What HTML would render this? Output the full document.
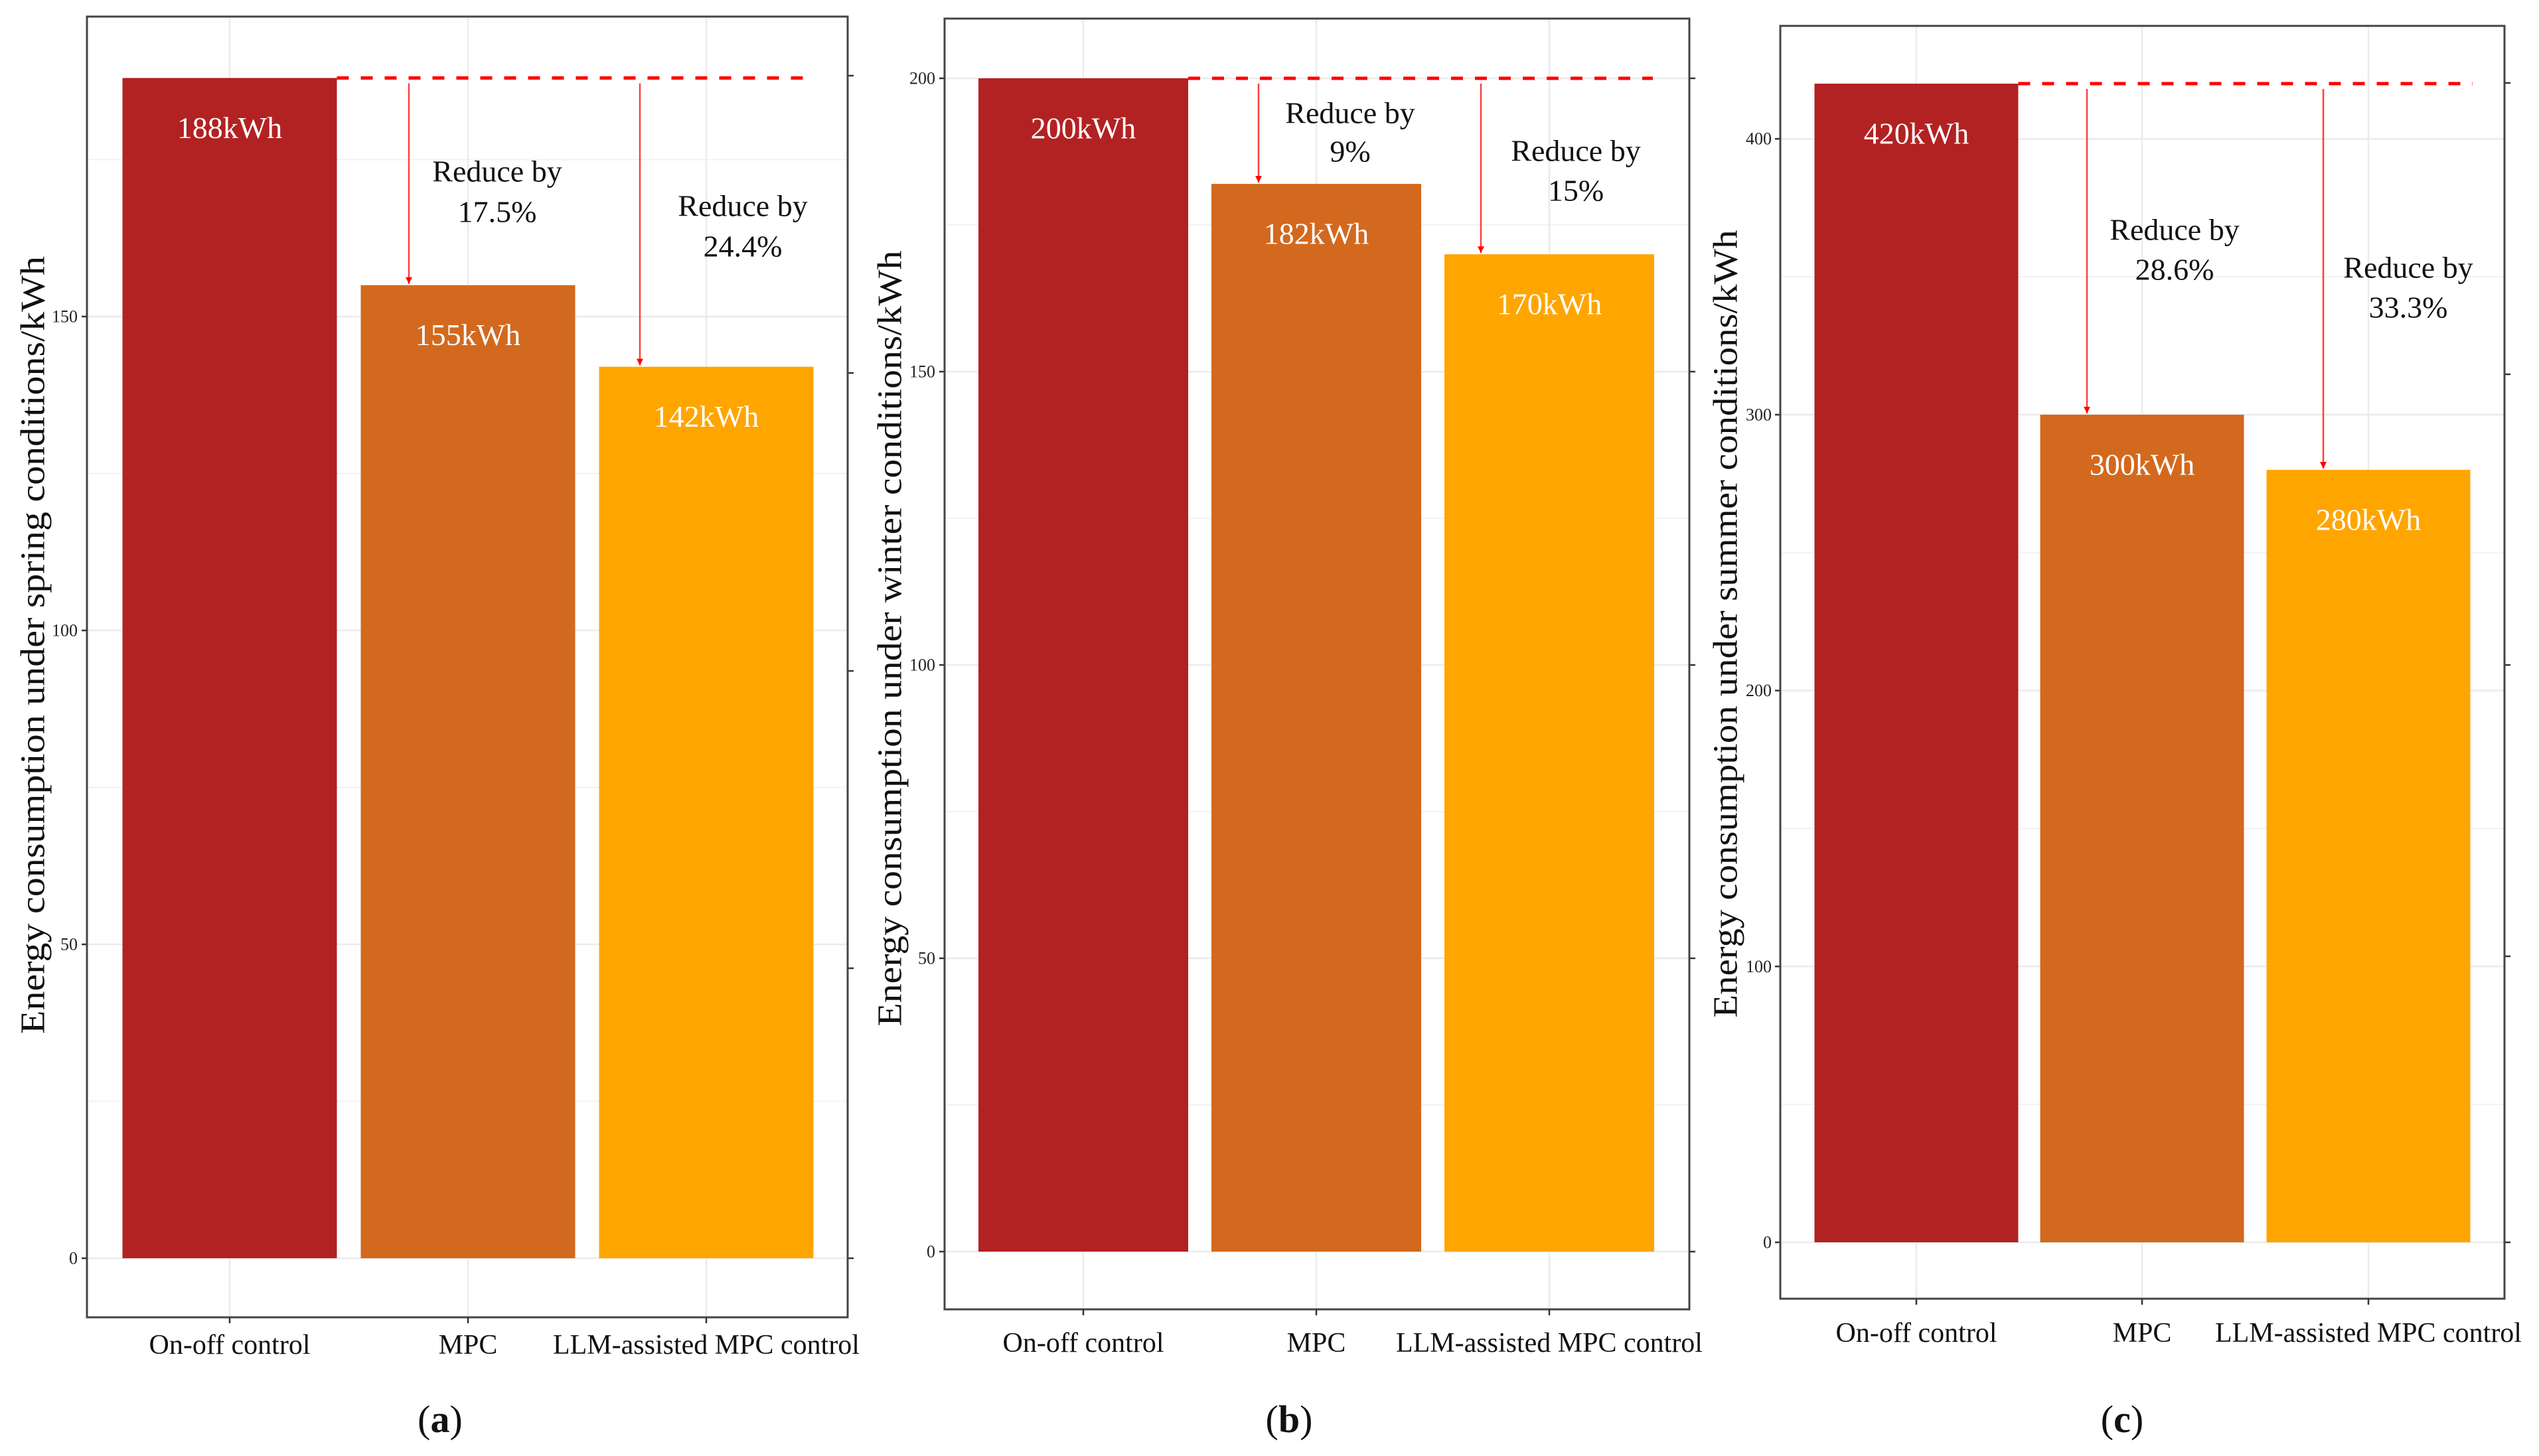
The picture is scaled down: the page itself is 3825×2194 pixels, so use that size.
<!DOCTYPE html>
<html><head><meta charset="utf-8">
<style>
html,body{margin:0;padding:0;background:#fff;}
svg{display:block;font-family:"Liberation Serif",serif;}
text{font-family:"Liberation Serif",serif;}
</style></head>
<body>
<svg id="fig" width="3825" height="2194" viewBox="0 0 3825 2194" font-family="Liberation Serif, serif" xmlns="http://www.w3.org/2000/svg"></svg>
<script>
// ---- data ----
const categories = ["On-off control", "MPC", "LLM-assisted MPC control"];
const springValues = [188, 155, 142];
const winterValues = [200, 182, 170];
const summerValues = [420, 300, 280];
const springReductions = ["17.5%", "24.4%"];
const winterReductions = ["9%", "15%"];
const summerReductions = ["28.6%", "33.3%"];
const springTicks = [0, 50, 100, 150];
const winterTicks = [0, 50, 100, 150, 200];
const summerTicks = [0, 100, 200, 300, 400];
const panelLetters = ["(a)", "(b)", "(c)"];
const yTitles = ["Energy consumption under spring conditions/kWh",
                 "Energy consumption under winter conditions/kWh",
                 "Energy consumption under summer conditions/kWh"];
const barColors = ["#B22222", "#D2691E", "#FFA500"];

// ---- layout (not data) ----
const panels = [
  {id:"a", values:springValues, red:springReductions, ticks:springTicks, minor:25,
   box:[131,25,1277,1985], y0:1896, unit:9.46, centers:[346,705,1064], barW:323,
   titleX:50, titleY:972, titleLen:1172, tickX:117, dashEnd:1210,
   arrowX:[616,964], annY:[[258,319],[310,371]], annX:[749,1119],
   rightTicks:[114,562,1011,1459,1896], labY:2040, letterX:663},
  {id:"b", values:winterValues, red:winterReductions, ticks:winterTicks, minor:25,
   box:[1423,28,2545,1973], y0:1886, unit:8.84, centers:[1632,1983,2334], barW:316,
   titleX:1341, titleY:962, titleLen:1169, tickX:1409, dashEnd:2490,
   arrowX:[1896,2231], annY:[[170,228],[227,287]], annX:[2034,2374],
   rightTicks:null, labY:2037, letterX:1942},
  {id:"c", values:summerValues, red:summerReductions, ticks:summerTicks, minor:50,
   box:[2682,39,3773,1957], y0:1872, unit:4.157, centers:[2887,3227,3568], barW:307,
   titleX:2600, titleY:940, titleLen:1187, tickX:2669, dashEnd:3725,
   arrowX:[3144,3500], annY:[[346,406],[403,463]], annX:[3276,3628],
   rightTicks:[125,564,1002,1441,1872], labY:2022, letterX:3197}
];

const NS = "http://www.w3.org/2000/svg";
const svg = document.getElementById("fig");
function mk(tag, attrs, parent, txt){
  const e = document.createElementNS(NS, tag);
  for (const k in attrs) e.setAttribute(k, attrs[k]);
  if (txt !== undefined) e.textContent = txt;
  (parent||svg).appendChild(e);
  return e;
}

const defs = mk("defs", {});
const mrk = mk("marker", {id:"arr", viewBox:"0 0 10 10", refX:"10", refY:"5", markerWidth:"4", markerHeight:"4", orient:"auto"}, defs);
mk("path", {d:"M0,0 L10,5 L0,10 z", fill:"#ff0000"}, mrk);

panels.forEach((p, pi) => {
  const g = mk("g", {});
  
  
  const yS = v => p.y0 - v * p.unit;
  const [L, T, R, B] = p.box;

  for (let v = p.minor; yS(v) > T; v += p.minor * 2) {
    const gl = mk("line", {x1:L, x2:R, y1:yS(v), y2:yS(v), stroke:"#f2f2f2", "stroke-width":2}, g);
    
    
  }
  p.ticks.forEach(t => {
    const y = yS(t);
    const gl = mk("line", {x1:L, x2:R, y1:y, y2:y, stroke:"#ebebeb", "stroke-width":2.5}, g);
    
    
    const tk = mk("line", {x1:L-8, x2:L, y1:y, y2:y, stroke:"#333", "stroke-width":2.5}, g);
    
    
    const tl = mk("text", {x:p.tickX, y:y, "font-size":26, "text-anchor":"end", "dominant-baseline":"central", fill:"#222", "font-family":"Liberation Serif, serif"}, g, String(t));
    
    
  });
  const rts = p.rightTicks || p.ticks.map(yS);
  rts.forEach(y => {
    const rt = mk("line", {x1:R, x2:R+9, y1:y, y2:y, stroke:"#333", "stroke-width":2.5}, g);
    
    
  });
  p.centers.forEach(cx => {
    const vg = mk("line", {x1:cx, x2:cx, y1:T, y2:B, stroke:"#ebebeb", "stroke-width":2.5}, g);
    
    
  });
  p.values.forEach((v, i) => {
    const cx = p.centers[i];
    const bar = mk("rect", {x:cx - p.barW/2, y:yS(v), width:p.barW, height:yS(0)-yS(v), fill:barColors[i]}, g);
    
    
    const bl = mk("text", {x:cx, y:yS(v) + 75, "font-size":46, "text-anchor":"middle", "dominant-baseline":"central", fill:"#fff", "font-family":"Liberation Serif, serif"}, g, v + "kWh");
    
    
  });
  const refY = yS(p.values[0]);
  const dl = mk("line", {x1:p.centers[0] + p.barW/2, x2:p.dashEnd, y1:refY, y2:refY, stroke:"#ff0000", "stroke-width":5, "stroke-dasharray":"18 18"}, g);
  
  
  [1, 2].forEach((bi, k) => {
    const ax = p.arrowX[k];
    const ar = mk("line", {x1:ax, x2:ax, y1:refY + 8, y2:yS(p.values[bi]) - 2, stroke:"#ff4040", "stroke-width":2.5, "marker-end":"url(#arr)"}, g);
    
    
    const a1 = mk("text", {x:p.annX[k], y:p.annY[k][0], "font-size":46, "text-anchor":"middle", "dominant-baseline":"central", fill:"#111", "font-family":"Liberation Serif, serif"}, g, "Reduce by");
    
    
    const a2 = mk("text", {x:p.annX[k], y:p.annY[k][1], "font-size":46, "text-anchor":"middle", "dominant-baseline":"central", fill:"#111", "font-family":"Liberation Serif, serif"}, g, p.red[k]);
    
    
  });
  const bx = mk("rect", {x:L, y:T, width:R-L, height:B-T, fill:"none", stroke:"#444", "stroke-width":3}, g);
  
  
  p.centers.forEach((cx, i) => {
    const xt = mk("line", {x1:cx, x2:cx, y1:B, y2:B+9, stroke:"#333", "stroke-width":2.5}, g);
    
    
    const xl = mk("text", {x:cx, y:p.labY, "font-size":42, "text-anchor":"middle", fill:"#111", "font-family":"Liberation Serif, serif"}, g, categories[i]);
    
    
  });
  const yt = mk("text", {x:0, y:0, "font-size":52, "text-anchor":"middle", "dominant-baseline":"central", fill:"#111", "font-family":"Liberation Serif, serif",
    textLength:p.titleLen, lengthAdjust:"spacingAndGlyphs",
    transform:"translate(" + p.titleX + "," + p.titleY + ") rotate(-90)"}, g, yTitles[pi]);
  
  
  const pl = mk("text", {x:p.letterX, y:2158, "font-size":58, "text-anchor":"middle", fill:"#111", "font-family":"Liberation Serif, serif"}, g);
  
  
  mk("tspan", {}, pl, "(");
  mk("tspan", {"font-weight":"bold"}, pl, panelLetters[pi].slice(1, -1));
  mk("tspan", {}, pl, ")");
});
</script>
</body></html>
